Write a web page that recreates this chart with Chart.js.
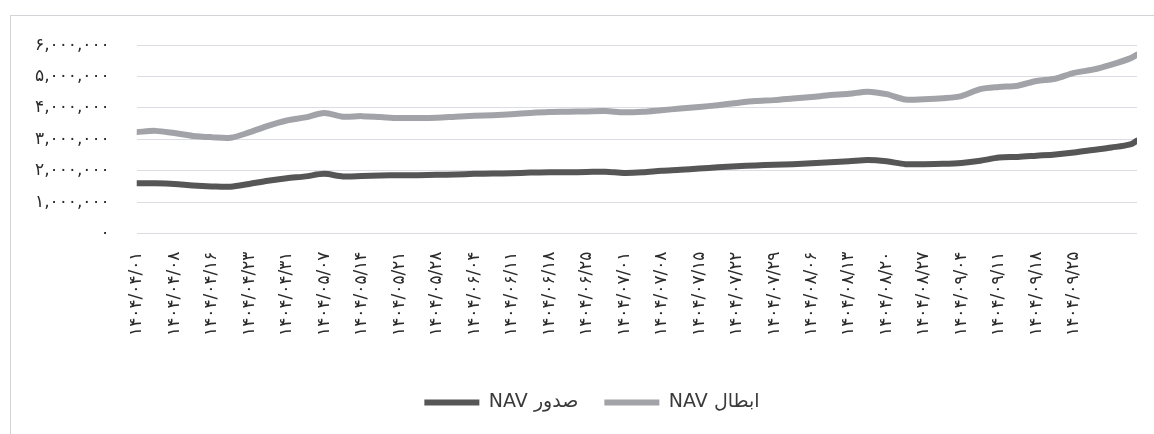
<!doctype html>
<html lang="fa">
<head>
    <meta charset="utf-8">
    <title>NAV</title>
    <script src="https://cdn.jsdelivr.net/npm/chart.js"></script>
    <style>
        body { margin: 0; background: #fff; overflow: hidden; }
        .frame { position: absolute; left: 10px; top: 15px; width: 1150px; height: 425px;
                 border-left: 1px solid #d4d4d8; border-top: 1px solid #d4d4d8; }
        #nav-chart { position: absolute; left: 8px; top: 8px; }
    </style>
</head>
<body>
<div class="frame"></div>
<canvas id="nav-chart" width="1168" height="427"></canvas>
<script>
    // tick labels on the x axis (every 5th trading day)
    const dateLabels = [
        '۱۴۰۴/۰۴/۰۱', '۱۴۰۴/۰۴/۰۸', '۱۴۰۴/۰۴/۱۶', '۱۴۰۴/۰۴/۲۳', '۱۴۰۴/۰۴/۳۱',
        '۱۴۰۴/۰۵/۰۷', '۱۴۰۴/۰۵/۱۴', '۱۴۰۴/۰۵/۲۱', '۱۴۰۴/۰۵/۲۸', '۱۴۰۴/۰۶/۰۴',
        '۱۴۰۴/۰۶/۱۱', '۱۴۰۴/۰۶/۱۸', '۱۴۰۴/۰۶/۲۵', '۱۴۰۴/۰۷/۰۱', '۱۴۰۴/۰۷/۰۸',
        '۱۴۰۴/۰۷/۱۵', '۱۴۰۴/۰۷/۲۲', '۱۴۰۴/۰۷/۲۹', '۱۴۰۴/۰۸/۰۶', '۱۴۰۴/۰۸/۱۳',
        '۱۴۰۴/۰۸/۲۰', '۱۴۰۴/۰۸/۲۷', '۱۴۰۴/۰۹/۰۴', '۱۴۰۴/۰۹/۱۱', '۱۴۰۴/۰۹/۱۸',
        '۱۴۰۴/۰۹/۲۵'
    ]

    // where the sampled points sit, in label steps (half a label apart, last one a bit past the last label)
    const samplePos = [
        0, 0.5, 1, 1.5, 2, 2.5, 3, 3.5, 4, 4.5, 5, 5.5, 6, 6.5, 7, 7.5, 8, 8.5,
        9, 9.5, 10, 10.5, 11, 11.5, 12, 12.5, 13, 13.5, 14, 14.5, 15, 15.5, 16, 16.5,
        17, 17.5, 18, 18.5, 19, 19.5, 20, 20.5, 21, 21.5, 22, 22.5, 23, 23.5, 24, 24.5,
        25, 25.5, 26, 26.5, 26.68
    ]

    // NAV صدور (issue) - millions
    const navIssue = [
        1.60, 1.60, 1.58, 1.53, 1.50, 1.49, 1.58, 1.68, 1.76, 1.82, 1.90, 1.82, 1.83, 1.85,
        1.86, 1.86, 1.87, 1.88, 1.90, 1.91, 1.92, 1.94, 1.95, 1.95, 1.96, 1.97, 1.93, 1.95,
        2.00, 2.03, 2.07, 2.11, 2.14, 2.17, 2.19, 2.21, 2.24, 2.27, 2.30, 2.34, 2.30, 2.21,
        2.21, 2.22, 2.25, 2.32, 2.42, 2.44, 2.48, 2.52, 2.58, 2.66, 2.74, 2.84, 2.96
    ]

    // NAV ابطال (redemption) - millions
    const navRedeem = [
        3.23, 3.27, 3.20, 3.11, 3.07, 3.05, 3.22, 3.43, 3.60, 3.70, 3.84, 3.72, 3.74, 3.71,
        3.68, 3.68, 3.69, 3.72, 3.75, 3.77, 3.80, 3.84, 3.87, 3.88, 3.89, 3.90, 3.86, 3.88,
        3.93, 3.98, 4.03, 4.09, 4.16, 4.22, 4.25, 4.30, 4.35, 4.41, 4.45, 4.52, 4.44, 4.27,
        4.28, 4.31, 4.38, 4.60, 4.67, 4.71, 4.86, 4.93, 5.12, 5.22, 5.38, 5.58, 5.70
    ]

    const yTicks = [0, 1000000, 2000000, 3000000, 4000000, 5000000, 6000000]

    function toPersianDigits(s) {
        return String(s).replace(/[0-9]/g, d => '۰۱۲۳۴۵۶۷۸۹'[d])
    }

    function points(values) {
        return values.map((v, i) => ({x: samplePos[i], y: v * 1000000}))
    }

    const font = "'DejaVu Sans', sans-serif"

    new Chart(document.getElementById('nav-chart').getContext('2d'), {
        type: 'line',
        data: {
            datasets: [{
                label: 'NAV صدور',
                data: points(navIssue),
                borderColor: '#565656',
                backgroundColor: '#565656',
                borderWidth: 6,
                borderCapStyle: 'round',
                borderJoinStyle: 'round',
                pointRadius: 0,
                tension: 0.3,
                fill: false
            }, {
                label: 'NAV ابطال',
                data: points(navRedeem),
                borderColor: '#a2a3a8',
                backgroundColor: '#a2a3a8',
                borderWidth: 6,
                borderCapStyle: 'round',
                borderJoinStyle: 'round',
                pointRadius: 0,
                tension: 0.3,
                fill: false
            }]
        },
        options: {
            responsive: false,
            animation: false,
            layout: {padding: {top: 0, right: 0, left: 0, bottom: 13}},
            plugins: {
                tooltip: {enabled: false},
                legend: {
                    position: 'bottom',
                    labels: {
                        usePointStyle: true,
                        pointStyle: 'line',
                        pointStyleWidth: 55,
                        boxHeight: 6,
                        padding: 26,
                        color: '#3a3a3a',
                        font: {family: font, size: 19}
                    }
                }
            },
            scales: {
                x: {
                    type: 'linear',
                    min: 0,
                    max: 26.68,
                    afterBuildTicks: axis => {
                        axis.ticks = dateLabels.map((_, i) => ({value: i}))
                    },
                    // room between the date labels and the legend
                    afterFit: axis => {
                        axis.height += 21
                    },
                    grid: {display: false},
                    border: {display: false},
                    ticks: {
                        autoSkip: false,
                        minRotation: 90,
                        maxRotation: 90,
                        padding: 10,
                        color: '#2b2b2b',
                        font: {family: font, size: 17},
                        callback: v => dateLabels[v]
                    }
                },
                y: {
                    min: 0,
                    max: 6000000,
                    afterBuildTicks: axis => {
                        axis.ticks = yTicks.map(v => ({value: v}))
                    },
                    grid: {color: '#dcdce4', lineWidth: 1, drawTicks: false},
                    border: {display: false},
                    ticks: {
                        padding: 27,
                        color: '#2b2b2b',
                        font: {family: font, size: 17},
                        callback: v => toPersianDigits(v.toLocaleString('en-US'))
                    }
                },
                // empty right-hand axis, only keeps blank space right of the plot
                spacer: {
                    position: 'right',
                    grid: {display: false},
                    border: {display: false},
                    ticks: {display: false},
                    afterFit: axis => {
                        axis.width = 39
                    }
                }
            }
        }
    })
</script>
</body>
</html>
